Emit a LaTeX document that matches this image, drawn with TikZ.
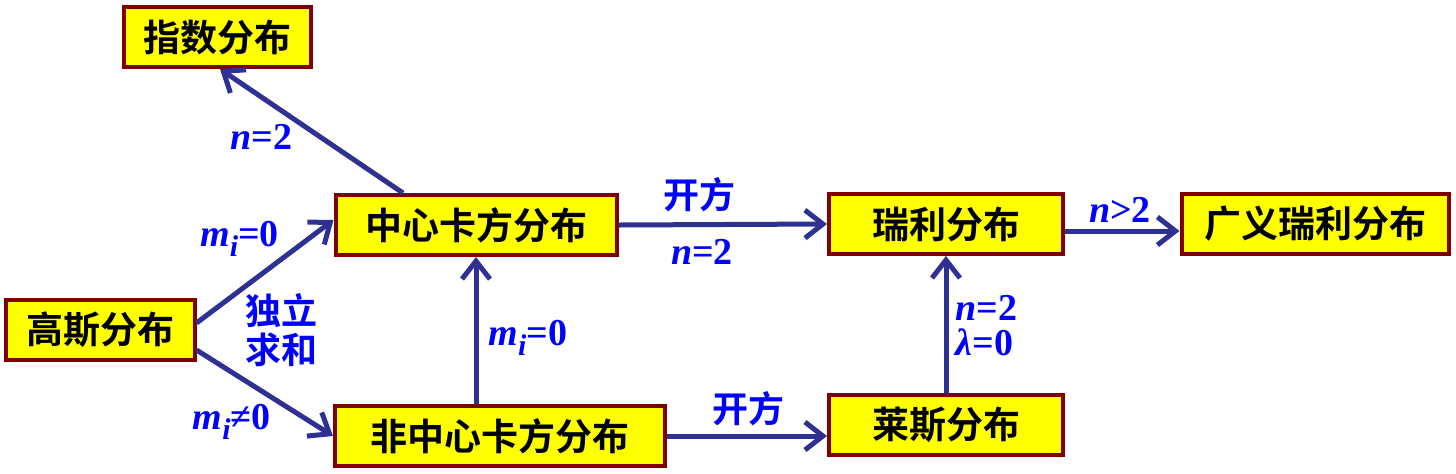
\documentclass[tikz,border=0pt]{standalone}
\usepackage{fontspec}
\setmainfont{Liberation Serif}
\newfontfamily\cjkfont{Noto Sans CJK SC}[BoldFont={Noto Sans CJK SC Bold}]
\usepackage{xcolor}
\definecolor{boxred}{RGB}{128,0,0}
\definecolor{boxyellow}{RGB}{255,255,0}
\definecolor{arrowblue}{RGB}{46,49,146}
\definecolor{labelblue}{RGB}{0,0,255}
\usepackage{tikz}
\usetikzlibrary{positioning}
\usetikzlibrary{arrows.meta}
\newcommand{\mvar}{{\itshape m}\raisebox{-5pt}{\fontsize{15}{15}\selectfont\itshape i}}

\begin{document}
\begin{tikzpicture}[x=0.5pt,y=-0.5pt]
	\useasboundingbox (0,0) rectangle (1456,473);
	\begin{scope}[every node/.style={draw=boxred,line width=2pt,fill=boxyellow,inner sep=0pt,
	              minimum height=30pt,font=\cjkfont\bfseries\fontsize{18.5}{18.5}\selectfont}]
	    \node (expo) [minimum width=93.5pt] at (217,37) {指数分布};
	    \node (gauss) [minimum width=94.5pt] at (100,330) {高斯分布};
	    \node (chi) [minimum width=140.5pt] at (476,225) {中心卡方分布};
	    \node (nchi) [minimum width=165pt] at (500,436) {非中心卡方分布};
	    \node (rayl) [minimum width=117pt] at (946,224) {瑞利分布};
	    \node (rice) [minimum width=117pt] at (946,425) {莱斯分布};
	    \node (grayl) [minimum width=133.5pt] at (1315,224) {广义瑞利分布};
	\end{scope}

	\begin{scope}[>={Straight Barb[length=9pt,width=14pt]},
	              every node/.style={text=labelblue,inner sep=0pt,font=\bfseries\fontsize{19}{19}\selectfont},
	              every edge/.style={draw=arrowblue,line width=2.5pt}]
    	\path [->] ([xshift=-36.5pt]chi.north) edge node[left=8.5pt,yshift=-3pt] (lexp) {\textit{n}=2} ([xshift=1.5pt]expo.south);
    	\path [->] ([yshift=3.5pt]gauss.east) edge node[pos=0.62,anchor=south east] (lchi) {\mvar=0} ([yshift=2.5pt]chi.west);
    	\path [->] ([yshift=-10pt]gauss.east) edge node[pos=0.56,anchor=north east,yshift=-2pt] (lnchi) {\mvar≠0} (nchi.west);
    	\path [->] (chi.south |- nchi.north) edge node[pos=0.45,right=5pt] (lzero) {\mvar=0} (chi.south);
    	\path [->] (chi.east) edge node[pos=0.39,above=5pt,font=\cjkfont\bfseries\fontsize{18}{18}\selectfont] (lsqrt) {开方}
    	                             node[pos=0.40,below=6pt] (ltwo) {\textit{n}=2} (rayl.west);
    	\path [->] (nchi.east) edge node[pos=0.51,above=4pt,font=\cjkfont\bfseries\fontsize{18}{18}\selectfont] (lnsqrt) {开方} (nchi.east -| rice.west);
    	\path [->] (rice.north) edge node[pos=0.49,right=3.5pt,align=left,font=\bfseries\fontsize{19}{17.5}\selectfont] (lrice) {\textit{n}=2\\\textit{λ}=0} (rayl.south);
    	\path [->] ([yshift=-3.5pt]rayl.east) edge node[pos=0.48,above=3pt] (lgray) {\textit{n}>2} ([yshift=-3.5pt]grayl.west);
	\end{scope}

	\node (lsum) [right=24.5pt of gauss,inner sep=0pt,align=center,text=labelblue,
	              font=\cjkfont\bfseries\fontsize{18}{19.5}\selectfont] {独立\\求和};
	\end{tikzpicture}
\end{document}
